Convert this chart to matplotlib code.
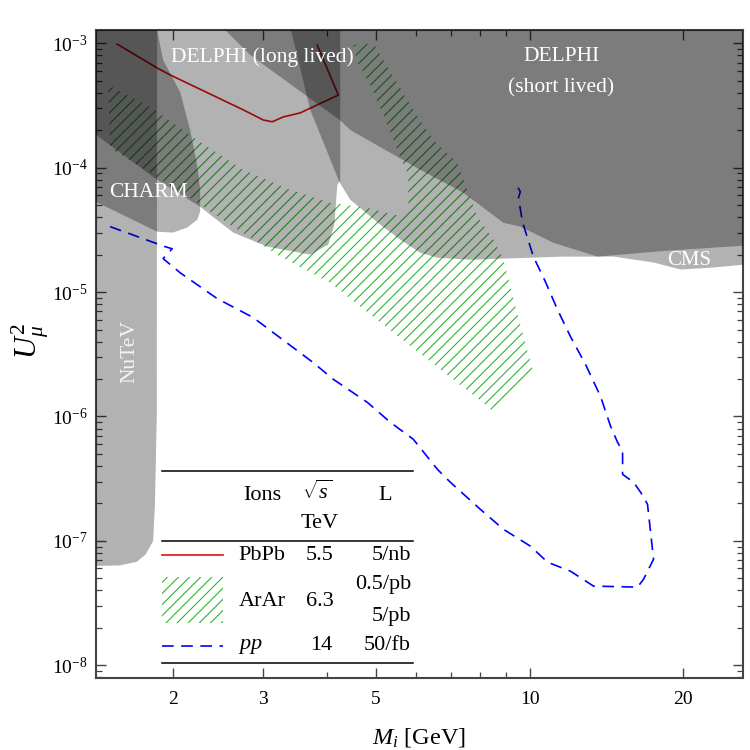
import matplotlib.pyplot as plt
from matplotlib.patches import Rectangle
from matplotlib.lines import Line2D
from matplotlib.ticker import LogLocator, NullFormatter, FixedLocator, FixedFormatter

plt.rcParams['font.family'] = ['Liberation Serif', 'DejaVu Serif']
plt.rcParams['mathtext.fontset'] = 'custom'
plt.rcParams['mathtext.rm'] = 'Liberation Serif'
plt.rcParams['mathtext.it'] = 'Liberation Serif:italic'
plt.rcParams['hatch.linewidth'] = 0.8

# ---- existing bounds: heavy neutrino mass M [GeV] and mixing U^2 ----
nutev_m = [1.20, 1.863, 1.86, 1.845, 1.83, 1.77, 1.70, 1.576, 1.44, 1.20]
nutev_u = [2e-3, 2e-3, 1e-6, 2e-7, 1.0e-7, 7.8e-8, 6.8e-8, 6.35e-8, 6.3e-8, 6.3e-8]

charm_m = [1.20, 1.85, 1.863, 1.914, 2.067, 2.162, 2.232, 2.262, 2.262, 2.232,
           2.133, 2.0, 1.863, 1.414, 1.20]
charm_u = [2e-3, 2e-3, 1.28e-3, 7.34e-4, 4.06e-4, 2.01e-4, 1.05e-4, 6.65e-5,
           4.42e-5, 3.82e-5, 3.30e-5, 3.01e-5, 3.06e-5, 5.32e-5, 6.5e-5]

delphi_long_m = [1.20, 4.256, 4.256, 4.238, 4.200, 4.144, 4.032, 3.717, 3.061,
                 2.626, 2.262, 1.863, 1.414, 1.20]
delphi_long_u = [2e-3, 2e-3, 8.0e-5, 7.7e-5, 7.29e-5, 3.48e-5, 2.41e-5, 2.00e-5,
                 2.32e-5, 3.01e-5, 4.85e-5, 8.0e-5, 1.84e-4, 2.6e-4]

delphi_short_m = [2.30, 2.533, 2.836, 3.396, 4.256, 4.453, 6.107, 7.418, 8.884,
                  9.59, 11.14, 13.58, 15.07, 17.49, 19.76, 26.2, 30, 30]
delphi_short_u = [2e-3, 1.28e-3, 8.05e-4, 4.71e-4, 2.4e-4, 2.01e-4, 9.61e-5,
                  6.29e-5, 3.61e-5, 3.36e-5, 2.49e-5, 1.93e-5, 2.00e-5, 2.11e-5,
                  2.19e-5, 2.36e-5, 2.4e-5, 2e-3]

cms_m = [3.32, 3.717, 4.238, 4.453, 5.10, 5.581, 6.107, 6.597, 7.655, 8.884,
         11.65, 14.60, 17.49, 19.76, 22.62, 26.2, 30, 30]
cms_u = [2e-3, 2.92e-4, 7.7e-5, 5.52e-5, 3.48e-5, 2.64e-5, 2.07e-5, 1.89e-5,
         1.82e-5, 1.86e-5, 1.93e-5, 1.93e-5, 1.73e-5, 1.52e-5, 1.57e-5, 1.66e-5,
         1.7e-5, 2e-3]

# ---- sensitivities ----
pbpb_m = [1.555, 1.863, 1.976, 2.747, 3.007, 3.131, 3.291, 3.553, 4.219, 3.836]
pbpb_u = [9.87e-4, 6.34e-4, 5.57e-4, 2.92e-4, 2.42e-4, 2.34e-4, 2.56e-4,
          2.76e-4, 3.84e-4, 9.69e-4]

arar_m = [1.494, 1.805, 2.232, 2.747, 3.396, 4.069, 4.809, 5.631, 5.787, 5.787,
          5.581, 5.336, 5.100, 4.875, 4.597, 4.514, 4.941, 5.408, 5.919, 6.478,
          7.219, 7.903, 8.492, 8.884, 9.380, 9.725, 10.17, 8.492, 8.267, 5.100,
          4.069, 3.246, 2.591, 2.162, 1.507]
arar_u = [4.62e-4, 3.08e-4, 1.67e-4, 9.61e-5, 6.65e-5, 5.22e-5, 4.76e-5, 4.03e-5,
          4.59e-5, 8.77e-5, 1.20e-4, 1.94e-4, 3.03e-4, 4.62e-4, 7.08e-4, 9.69e-4,
          1.005e-3, 5.37e-4, 2.92e-4, 1.67e-4, 1.09e-4, 4.03e-5, 2.64e-5, 1.82e-5,
          7.66e-6, 4.40e-6, 2.26e-6, 1.08e-6, 1.21e-6, 5.70e-6, 1.19e-5, 1.93e-5,
          3.48e-5, 5.73e-5, 1.44e-4]

pp_m = [1.507, 1.931, 1.994, 1.914, 2.067, 2.443, 2.874, 3.768, 4.125, 4.809,
        5.336, 5.919, 6.597, 6.993, 8.011, 8.884, 10.04, 10.84, 12.02, 13.34,
        16.27, 16.72, 17.49, 17.26, 17.02, 16.50, 15.98, 15.21, 15.21, 14.87,
        14.41, 13.77, 12.87, 12.02, 11.34, 10.74, 10.17, 9.68, 9.51, 9.59, 9.42]
pp_u = [3.36e-5, 2.32e-5, 2.23e-5, 1.86e-5, 1.43e-5, 8.87e-6, 6.24e-6, 2.71e-6,
        1.99e-6, 1.30e-6, 8.97e-7, 6.55e-7, 3.76e-7, 2.96e-7, 1.79e-7, 1.24e-7,
        9.06e-8, 6.74e-8, 5.71e-8, 4.33e-8, 4.25e-8, 4.92e-8, 7.12e-8, 1.17e-7,
        1.97e-7, 2.46e-7, 2.96e-7, 3.43e-7, 5.25e-7, 6.20e-7, 8.33e-7, 1.45e-6,
        2.62e-6, 4.40e-6, 7.23e-6, 1.21e-5, 1.93e-5, 3.68e-5, 5.73e-5, 6.41e-5,
        7.29e-5]

x_major = [2, 3, 5, 10, 20]
x_minor = [4, 6, 7, 8, 9]

GREEN = '#2fb52f'
RED = '#e01010'
BLUE = '#0000ff'
DASH = (7, 4.5)
HATCH = '///'

fig = plt.figure(figsize=(7.5, 7.5), dpi=100)
ax = fig.add_axes([96 / 750, 72 / 750, 646.7 / 750, 648 / 750])
ax.set_xscale('log')
ax.set_yscale('log')

# sensitivity curves go underneath the translucent exclusion regions
ax.fill(arar_m, arar_u, facecolor='none', edgecolor=GREEN, hatch=HATCH, lw=0, zorder=1)
ax.plot(pbpb_m, pbpb_u, color=RED, lw=1.2, zorder=2)
ax.plot(pp_m, pp_u, color=BLUE, lw=1.2, dashes=DASH, zorder=2)

for m, u in [(nutev_m, nutev_u), (charm_m, charm_u), (delphi_long_m, delphi_long_u),
             (delphi_short_m, delphi_short_u), (cms_m, cms_u)]:
    ax.fill(m, u, facecolor='black', alpha=0.3, lw=0, zorder=3)

lab = dict(color='white', fontsize=15.5, ha='center', va='center', zorder=5)
ax.text(3.0, 7.8e-4, 'DELPHI (long lived)', **lab)
ax.text(11.55, 7.8e-4, 'DELPHI', **lab)
ax.text(11.55, 4.4e-4, '(short lived)', **lab)
ax.text(1.79, 6.3e-5, 'CHARM', **lab)
ax.text(20.5, 1.8e-5, 'CMS', color='white', fontsize=15, ha='center', va='center', zorder=5)
ax.text(1.65, 3.3e-6, 'NuTeV', color='#f4f4f4', fontsize=15.5, rotation=90,
        ha='center', va='center', zorder=5)

ax.set_xlim(1.414, 26.15)
ax.set_ylim(7.9e-9, 1.28e-3)

ax.xaxis.set_major_locator(FixedLocator(x_major))
ax.xaxis.set_major_formatter(FixedFormatter([str(v) for v in x_major]))
ax.xaxis.set_minor_locator(FixedLocator(x_minor))
ax.xaxis.set_minor_formatter(NullFormatter())
ax.yaxis.set_major_locator(LogLocator(base=10, numticks=20))
ax.yaxis.set_minor_locator(LogLocator(base=10, subs=range(2, 10), numticks=20))
ax.yaxis.set_minor_formatter(NullFormatter())

ax.tick_params(which='both', direction='in', top=True, right=True, color='#444444',
               labelsize=14)
ax.tick_params(which='major', length=7, width=1.0)
ax.tick_params(which='minor', length=4, width=0.9)
ax.tick_params(axis='x', pad=9)
ax.tick_params(axis='y', pad=6)
for s in ax.spines.values():
    s.set_color('#444444')
    s.set_linewidth(1.5)

ax.set_xlabel(r'$M_i$ [GeV]', fontsize=17.5)
ax.set_ylabel(r'$U^2_\mu$', fontsize=22)
ax.xaxis.set_label_coords(0.5, -0.074)
ax.yaxis.set_label_coords(-0.07, 0.52)

# ---- legend table ----
def fx(px):
    return px / 750

def fy(py):
    return 1 - py / 750

for py in (471, 540.7, 662.7):
    fig.add_artist(Line2D([fx(162), fx(413)], [fy(py), fy(py)], color='black', lw=1.1))

tk = dict(fontsize=16, va='center', transform=fig.transFigure)
fig.text(fx(262), fy(495), 'Ions', ha='center', **tk)
fig.text(fx(317), fy(492), r'$\sqrt{s}$', ha='center', **tk)
fig.text(fx(320), fy(523), 'TeV', ha='center', **tk)
fig.text(fx(385), fy(495), 'L', ha='center', **tk)

fig.add_artist(Line2D([fx(162), fx(223)], [fy(555), fy(555)], color=RED, lw=1.2))
fig.text(fx(262), fy(555), 'PbPb', ha='center', **tk)
fig.text(fx(320), fy(555), '5.5', ha='center', **tk)
fig.text(fx(411), fy(555), '5/nb', ha='right', **tk)

fig.add_artist(Rectangle((fx(162), fy(623)), 61 / 750, 46 / 750, transform=fig.transFigure,
                         fill=False, hatch=HATCH, edgecolor=GREEN, lw=0))
fig.text(fx(262), fy(601), 'ArAr', ha='center', **tk)
fig.text(fx(320), fy(601), '6.3', ha='center', **tk)
fig.text(fx(411), fy(585), '0.5/pb', ha='right', **tk)
fig.text(fx(411), fy(616), '5/pb', ha='right', **tk)

fig.add_artist(Line2D([fx(162), fx(223)], [fy(646), fy(646)], color=BLUE, lw=1.2,
                      dashes=DASH))
fig.text(fx(250), fy(646), r'$pp$', ha='center', **tk)
fig.text(fx(321), fy(646), '14', ha='center', **tk)
fig.text(fx(411), fy(646), '50/fb', ha='right', **tk)

fig.savefig('out.png', dpi=100)
